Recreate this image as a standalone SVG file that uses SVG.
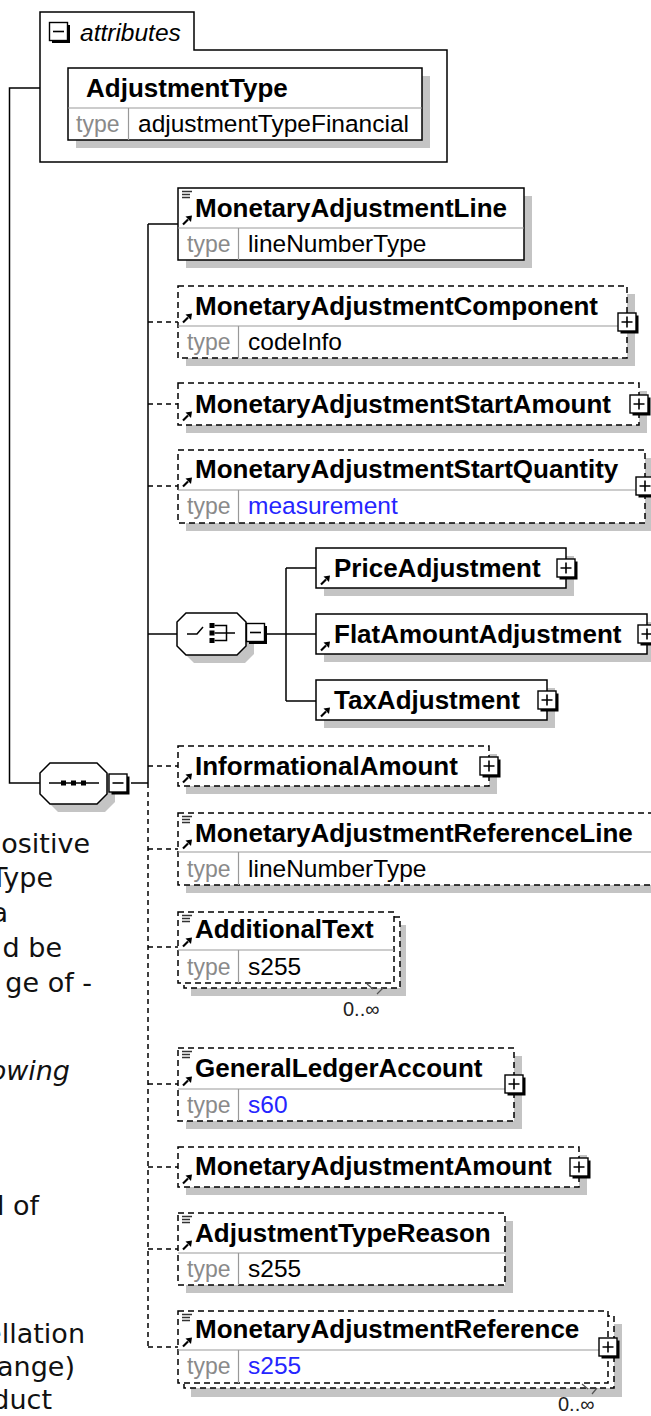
<svg xmlns="http://www.w3.org/2000/svg" width="651" height="1416" viewBox="0 0 651 1416">
<style>
.ln{stroke:#000;stroke-width:1.5;fill:none}
.dl{stroke:#000;stroke-width:1.5;fill:none;stroke-dasharray:5 4}
.box{fill:#fff;stroke:#000;stroke-width:1.5}
.dbox{fill:#fff;stroke:#000;stroke-width:1.5;stroke-dasharray:6 4}
.sh{fill:#c4c4c4}
.div{stroke:#999;stroke-width:1.2}
.nm{font-family:"Liberation Sans",Arial,sans-serif;font-weight:bold;font-size:26px;fill:#000}
.tl{font-family:"Liberation Sans",Arial,sans-serif;font-size:23px;fill:#8a8a8a}
.tv{font-family:"Liberation Sans",Arial,sans-serif;font-size:24.5px;fill:#000}
.blue{fill:#2525ff}
.occ{font-family:"Liberation Sans",Arial,sans-serif;font-size:20px;fill:#222}
.doc{font-family:"DejaVu Sans",Verdana,sans-serif;font-size:27px;fill:#111;text-anchor:end}
.it{font-style:italic}
</style>
<defs>
<g id="plusbox"><rect x="-6.5" y="-6.5" width="18" height="18" fill="#000"/><rect x="-9" y="-9" width="18" height="18" fill="#fff" stroke="#000" stroke-width="1.4"/><path d="M-5.5,0H5.5M0,-5.5V5.5" stroke="#000" stroke-width="1.6"/></g>
<g id="minusbox"><rect x="-6.5" y="-6.5" width="18" height="18" fill="#000"/><rect x="-9" y="-9" width="18" height="18" fill="#fff" stroke="#000" stroke-width="1.4"/><path d="M-5.5,0H5.5" stroke="#000" stroke-width="1.6"/></g>
<g id="docicon"><path d="M0,0.5H10M0,3.5H8M0,6.5H8" stroke="#333" stroke-width="1.3"/></g>
<g id="refarrow"><path d="M1,9.5L6,4.5" stroke="#000" stroke-width="2.2"/><path d="M10,0.5L3.5,1.5L9,7Z" fill="#000"/></g>
</defs>
<rect width="651" height="1416" fill="#fff"/>

<g id="connectors">
<path class="ln" d="M40,88H9.5V783H40"/>
<path class="ln" d="M131,783H148"/>
<path class="ln" d="M148,224V783"/>
<path class="dl" d="M148,783V1347"/>
<path class="ln" d="M148,224H178"/>
<path class="dl" d="M148,322H178M148,404H178M148,486H178"/>
<path class="ln" d="M148,634H177"/>
<path class="ln" d="M267,634H316M286,568V701M286,568H316M286,701H316"/>
<path class="dl" d="M148,766H178M148,849H178M148,947H178M148,1084H178M148,1167H178M148,1249H178M148,1347H178"/>
</g>

<g id="attributes">
<path class="ln" d="M40,12H194V50H447V162H40Z"/>
<use href="#minusbox" x="58.5" y="31.5"/>
<text class="tv it" x="80" y="41">attributes</text>
</g>

<g id="AdjustmentType">
<rect class="sh" x="76" y="76" width="354" height="72"/>
<rect class="box" x="68" y="68" width="354" height="72"/>
<line class="div" x1="68" y1="108" x2="422" y2="108"/>
<line class="div" x1="128.5" y1="108" x2="128.5" y2="140"/>
<text class="nm" x="86" y="97">AdjustmentType</text>
<text class="tl" x="76" y="132">type</text>
<text class="tv" x="138" y="132">adjustmentTypeFinancial</text>
</g>

<g id="sequence">
<polygon class="sh" points="58,771 105,771 115,781 115,802 105,812 58,812 48,802 48,781"/>
<polygon class="box" points="50,763 97,763 107,773 107,794 97,804 50,804 40,794 40,773"/>
<path class="ln" d="M49,783H99"/>
<rect x="61" y="780.5" width="5" height="5"/>
<rect x="71" y="780.5" width="5" height="5"/>
<rect x="81" y="780.5" width="5" height="5"/>
<use href="#minusbox" x="118" y="783"/>
</g>

<g id="choice">
<polygon class="sh" points="194,621 245,621 254,630 254,654 245,663 194,663 185,654 185,630"/>
<polygon class="box" points="186,613 237,613 246,622 246,646 237,655 186,655 177,646 177,622"/>
<path class="ln" d="M187,634H197L203,627"/>
<rect x="209.5" y="623" width="5" height="5"/>
<rect x="209.5" y="630.5" width="5" height="5"/>
<rect x="209.5" y="638" width="5" height="5"/>
<path class="ln" d="M214.5,625.5H226.5V640.5H214.5M214.5,633H235"/>
<use href="#minusbox" x="255.5" y="632.5"/>
</g>

<g id="MonetaryAdjustmentLine">
<rect class="sh" x="186" y="196" width="346" height="72"/>
<rect class="box" x="178" y="188" width="346" height="72"/>
<line class="div" x1="178" y1="228" x2="524" y2="228"/>
<line class="div" x1="238.5" y1="228" x2="238.5" y2="260"/>
<use href="#docicon" x="182" y="191"/>
<use href="#refarrow" x="182" y="215"/>
<text class="nm" x="195" y="217">MonetaryAdjustmentLine</text>
<text class="tl" x="187" y="252">type</text>
<text class="tv" x="248" y="252">lineNumberType</text>
</g>

<g id="MonetaryAdjustmentComponent">
<rect class="sh" x="186" y="294" width="449" height="72"/>
<rect class="dbox" x="178" y="286" width="449" height="72"/>
<line class="div" x1="178" y1="326" x2="627" y2="326"/>
<line class="div" x1="238.5" y1="326" x2="238.5" y2="358"/>
<use href="#refarrow" x="182" y="313"/>
<text class="nm" x="195" y="315">MonetaryAdjustmentComponent</text>
<text class="tl" x="187" y="350">type</text>
<text class="tv" x="248" y="350">codeInfo</text>
<use href="#plusbox" x="627" y="322"/>
</g>

<g id="MonetaryAdjustmentStartAmount">
<rect class="sh" x="186" y="391" width="461" height="42"/>
<rect class="dbox" x="178" y="383" width="461" height="42"/>
<use href="#refarrow" x="182" y="411"/>
<text class="nm" x="195" y="413">MonetaryAdjustmentStartAmount</text>
<use href="#plusbox" x="639" y="404"/>
</g>

<g id="MonetaryAdjustmentStartQuantity">
<rect class="sh" x="186" y="458" width="467" height="73"/>
<rect class="dbox" x="178" y="450" width="467" height="73"/>
<line class="div" x1="178" y1="490" x2="645" y2="490"/>
<line class="div" x1="238.5" y1="490" x2="238.5" y2="523"/>
<use href="#refarrow" x="182" y="477"/>
<text class="nm" x="195" y="478">MonetaryAdjustmentStartQuantity</text>
<text class="tl" x="187" y="514">type</text>
<text class="tv blue" x="248" y="514">measurement</text>
<use href="#plusbox" x="645" y="486"/>
</g>

<g id="PriceAdjustment">
<rect class="sh" x="324" y="556" width="250" height="40"/>
<rect class="box" x="316" y="548" width="250" height="40"/>
<use href="#refarrow" x="320" y="575"/>
<text class="nm" x="334" y="577">PriceAdjustment</text>
<use href="#plusbox" x="566" y="568"/>
</g>

<g id="FlatAmountAdjustment">
<rect class="sh" x="324" y="622" width="331" height="40"/>
<rect class="box" x="316" y="614" width="331" height="40"/>
<use href="#refarrow" x="320" y="641"/>
<text class="nm" x="334" y="643">FlatAmountAdjustment</text>
<use href="#plusbox" x="647" y="634"/>
</g>

<g id="TaxAdjustment">
<rect class="sh" x="324" y="688" width="231" height="40"/>
<rect class="box" x="316" y="680" width="231" height="40"/>
<use href="#refarrow" x="320" y="707"/>
<text class="nm" x="334" y="709">TaxAdjustment</text>
<use href="#plusbox" x="547" y="700"/>
</g>

<g id="InformationalAmount">
<rect class="sh" x="186" y="754" width="311" height="40"/>
<rect class="dbox" x="178" y="746" width="311" height="40"/>
<use href="#refarrow" x="182" y="773"/>
<text class="nm" x="195" y="775">InformationalAmount</text>
<use href="#plusbox" x="489" y="766"/>
</g>

<g id="MonetaryAdjustmentReferenceLine">
<rect class="sh" x="186" y="821" width="490" height="72"/>
<rect class="dbox" x="178" y="813" width="490" height="72"/>
<line class="div" x1="178" y1="852" x2="668" y2="852"/>
<line class="div" x1="238.5" y1="852" x2="238.5" y2="885"/>
<use href="#docicon" x="182" y="816"/>
<use href="#refarrow" x="182" y="839"/>
<text class="nm" x="195" y="842">MonetaryAdjustmentReferenceLine</text>
<text class="tl" x="187" y="877">type</text>
<text class="tv" x="248" y="877">lineNumberType</text>
</g>

<g id="AdditionalText">
<rect class="sh" x="191" y="925" width="215" height="71"/>
<rect class="dbox" x="184" y="917" width="216" height="71"/>
<rect class="dbox" x="178" y="912" width="216" height="71"/>
<line class="div" x1="178" y1="950" x2="394" y2="950"/>
<line class="div" x1="238.5" y1="950" x2="238.5" y2="983"/>
<use href="#docicon" x="182" y="915"/>
<use href="#refarrow" x="182" y="937"/>
<text class="nm" x="195" y="938">AdditionalText</text>
<text class="tl" x="187" y="975">type</text>
<text class="tv" x="248" y="975">s255</text>
<path d="M367,984L373,989M377,994L383,988" stroke="#555" stroke-width="1.2" fill="none"/>
<text class="occ" x="343" y="1016">0..∞</text>
</g>

<g id="GeneralLedgerAccount">
<rect class="sh" x="186" y="1056" width="336" height="73"/>
<rect class="dbox" x="178" y="1048" width="336" height="73"/>
<line class="div" x1="178" y1="1089" x2="514" y2="1089"/>
<line class="div" x1="238.5" y1="1089" x2="238.5" y2="1121"/>
<use href="#docicon" x="182" y="1051"/>
<use href="#refarrow" x="182" y="1076"/>
<text class="nm" x="195" y="1077">GeneralLedgerAccount</text>
<text class="tl" x="187" y="1113">type</text>
<text class="tv blue" x="248" y="1113">s60</text>
<use href="#plusbox" x="514" y="1084"/>
</g>

<g id="MonetaryAdjustmentAmount">
<rect class="sh" x="186" y="1155" width="401" height="40"/>
<rect class="dbox" x="178" y="1147" width="401" height="40"/>
<use href="#refarrow" x="182" y="1174"/>
<text class="nm" x="195" y="1175">MonetaryAdjustmentAmount</text>
<use href="#plusbox" x="579" y="1167"/>
</g>

<g id="AdjustmentTypeReason">
<rect class="sh" x="186" y="1221" width="327" height="72"/>
<rect class="dbox" x="178" y="1213" width="327" height="72"/>
<line class="div" x1="178" y1="1253" x2="505" y2="1253"/>
<line class="div" x1="238.5" y1="1253" x2="238.5" y2="1285"/>
<use href="#docicon" x="182" y="1216"/>
<use href="#refarrow" x="182" y="1240"/>
<text class="nm" x="195" y="1242">AdjustmentTypeReason</text>
<text class="tl" x="187" y="1277">type</text>
<text class="tv" x="248" y="1277">s255</text>
</g>

<g id="MonetaryAdjustmentReference">
<rect class="sh" x="191" y="1324" width="431" height="73"/>
<rect class="dbox" x="184" y="1316" width="430" height="72"/>
<rect class="dbox" x="178" y="1311" width="430" height="72"/>
<line class="div" x1="178" y1="1350" x2="608" y2="1350"/>
<line class="div" x1="238.5" y1="1350" x2="238.5" y2="1383"/>
<use href="#docicon" x="182" y="1314"/>
<use href="#refarrow" x="182" y="1337"/>
<text class="nm" x="195" y="1338">MonetaryAdjustmentReference</text>
<text class="tl" x="187" y="1374">type</text>
<text class="tv blue" x="248" y="1374">s255</text>
<use href="#plusbox" x="608" y="1347"/>
<path d="M582,1384L588,1389M592,1394L597,1388" stroke="#555" stroke-width="1.2" fill="none"/>
<text class="occ" x="558" y="1411">0..∞</text>
</g>

<g id="documentation">
<text class="doc" x="90" y="853">ositive</text>
<text class="doc" x="53" y="887">Type</text>
<text class="doc" x="8" y="922">a</text>
<text class="doc" x="62" y="957">d be</text>
<text class="doc" x="92" y="992">ge of -</text>
<text class="doc it" x="70" y="1080">owing</text>
<text class="doc" x="39" y="1215">l of</text>
<text class="doc" x="85" y="1343">ellation</text>
<text class="doc" x="75" y="1376">ange)</text>
<text class="doc" x="52" y="1409">duct</text>
</g>
</svg>
